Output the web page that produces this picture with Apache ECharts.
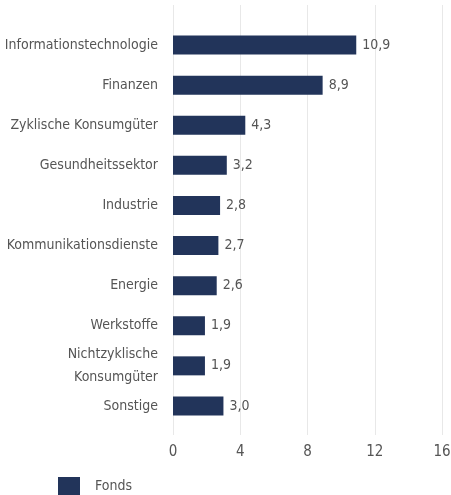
<!DOCTYPE html>
<html><head><meta charset="utf-8">
<script src="https://cdn.jsdelivr.net/npm/echarts@6/dist/echarts.min.js"></script>
<style>html,body{margin:0;padding:0;background:#fff}#c{width:451px;height:495px}</style>
</head><body><div id="c"></div>
<script>
const categories = ["Informationstechnologie","Finanzen","Zyklische Konsumgüter","Gesundheitssektor","Industrie","Kommunikationsdienste","Energie","Werkstoffe","Nichtzyklische\nKonsumgüter","Sonstige"];
const fondsValues = [10.9, 8.9, 4.3, 3.2, 2.8, 2.7, 2.6, 1.9, 1.9, 3.0];
const xTicks = [0, 4, 8, 12, 16];
const FONT = '"DejaVu Sans Condensed", "Liberation Sans Narrow", sans-serif';
const chart = echarts.init(document.getElementById('c'), null, {renderer:'canvas'});
chart.setOption({
  animation:false,
  grid:[
    {left:173, width:269, top:5, height:430, outerBoundsMode:'none', containLabel:false},
    {left:173, width:269, top:25, height:401, outerBoundsMode:'none', containLabel:false}
  ],
  legend:{
    left:53, top:472, itemWidth:22, itemHeight:18, itemGap:10,
    textStyle:{fontFamily:FONT, fontSize:14, color:'#555', padding:[0,0,0,10]},
    icon:'rect', data:['Fonds']
  },
  xAxis:[
    {gridIndex:0, type:'value', min:xTicks[0], max:xTicks[xTicks.length-1], interval:4,
     axisLine:{show:false}, axisTick:{show:false},
     axisLabel:{margin:10, fontFamily:FONT, fontSize:15, color:'#555'},
     splitLine:{lineStyle:{color:'#e8e8e8', width:1}}},
    {gridIndex:1, type:'value', min:0, max:16, interval:4, show:false, splitLine:{show:false}}
  ],
  yAxis:[
    {gridIndex:0, type:'category', data:categories, show:false},
    {gridIndex:1, type:'category', data:categories, inverse:true,
     axisLine:{show:false}, axisTick:{show:false},
     axisLabel:{margin:15, fontFamily:FONT, fontSize:14, color:'#555', lineHeight:23, align:'right'}}
  ],
  series:[{
    name:'Fonds', type:'bar', xAxisIndex:1, yAxisIndex:1, data:fondsValues, barWidth:19,
    itemStyle:{color:'#22345a'},
    label:{show:true, position:'right', distance:6, fontFamily:FONT, fontSize:14, color:'#555',
      formatter:p=>p.value.toFixed(1).replace('.',',')}
  }]
});
</script></body></html>
